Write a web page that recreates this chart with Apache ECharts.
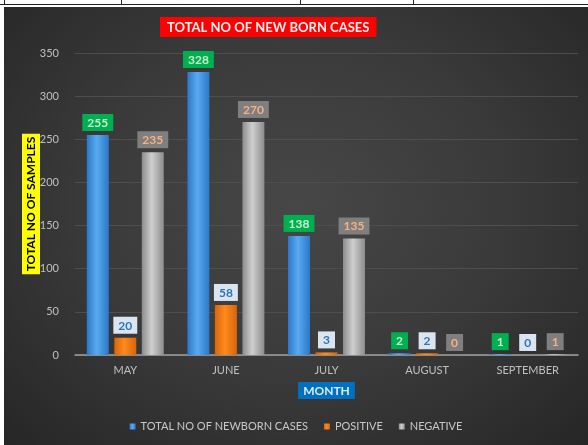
<!DOCTYPE html>
<html>
<head>
<meta charset="utf-8">
<script src="https://cdn.jsdelivr.net/npm/echarts@6/dist/echarts.min.js"></script>
<style>
  html, body { margin: 0; padding: 0; background: #fff; }
  #wrap { position: relative; width: 588px; height: 445px; overflow: hidden; background: #fff; }
  .ln { position: absolute; background: #222; }
  #main { position: absolute; left: 4px; top: 7px; width: 584px; height: 438px;
          background: radial-gradient(ellipse at 50% 45%, #474747 0%, #3a3a3a 50%, #262626 100%); }
</style>
</head>
<body>
<div id="wrap">
  <!-- table lines above the chart -->
  <div class="ln" style="left:0;top:4px;width:588px;height:1px"></div>
  <div class="ln" style="left:4px;top:0;width:1px;height:5px"></div>
  <div class="ln" style="left:121px;top:0;width:1px;height:5px"></div>
  <div class="ln" style="left:300px;top:0;width:1px;height:5px"></div>
  <div class="ln" style="left:413px;top:0;width:1px;height:5px"></div>
  <div id="main"></div>
</div>
<script>
// data
var months = ['MAY', 'JUNE', 'JULY', 'AUGUST', 'SEPTEMBER'];
var totalCases = [255, 328, 138, 2, 1];
var positive = [20, 58, 3, 2, 0];
var negative = [235, 270, 135, 0, 1];
var yTicks = [0, 50, 100, 150, 200, 250, 300, 350];

var font = 'Lato';

function barGrad(edge, mid) {
  return new echarts.graphic.LinearGradient(0, 0, 1, 0, [
    {offset: 0, color: edge},
    {offset: 0.45, color: mid},
    {offset: 1, color: edge}
  ]);
}

function lbl(bg, fg) {
  return {
    show: true,
    position: 'top',
    distance: 4,
    backgroundColor: bg,
    color: fg,
    fontFamily: font,
    fontWeight: 'bold',
    fontSize: 12,
    padding: [3, 5, 2, 5]
  };
}

var chart = echarts.init(document.getElementById('main'));
chart.setOption({
  backgroundColor: 'transparent',
  animation: false,
  title: {
    text: 'TOTAL NO OF NEW BORN CASES',
    left: 156,
    top: 10,
    backgroundColor: '#ff0000',
    padding: [4, 7, 3, 7],
    textStyle: {
      color: '#f2f2f2',
      fontFamily: font,
      fontWeight: 'bold',
      fontSize: 13
    }
  },
  legend: {
    bottom: 8,
    left: 'center',
    itemWidth: 6,
    itemHeight: 6,
    itemGap: 16,
    icon: 'rect',
    textStyle: { color: '#c8c8c8', fontFamily: font, fontSize: 11 },
    data: ['TOTAL NO OF NEWBORN CASES', 'POSITIVE', 'NEGATIVE']
  },
  grid: { left: 71, right: 10, top: 46, bottom: 90 },
  xAxis: {
    type: 'category',
    data: months,
    name: 'MONTH',
    nameLocation: 'middle',
    nameGap: 27,
    nameMoveOverlap: false,
    nameTextStyle: {
      color: '#ddebf7',
      backgroundColor: '#0070c0',
      fontFamily: font,
      fontWeight: 'bold',
      fontSize: 12,
      padding: [3, 5, 2, 5]
    },
    axisLine: { lineStyle: { color: '#a0a0a0', width: 1.5 } },
    axisTick: { show: false },
    axisLabel: { color: '#c0c0c0', fontFamily: font, fontSize: 11, margin: 10 }
  },
  yAxis: {
    type: 'value',
    min: yTicks[0],
    max: yTicks[yTicks.length - 1],
    interval: 50,
    name: 'TOTAL NO OF SAMPLES',
    nameLocation: 'middle',
    nameGap: 35,
    nameMoveOverlap: false,
    nameTextStyle: {
      color: '#000',
      backgroundColor: '#ffff00',
      fontFamily: font,
      fontWeight: 'bold',
      fontSize: 12,
      padding: [3, 3, 3, 3]
    },
    axisLine: { show: false },
    axisTick: { show: false },
    axisLabel: { color: '#c0c0c0', fontFamily: font, fontSize: 11, margin: 16 },
    splitLine: { lineStyle: { color: '#4e4e4e', width: 1 } }
  },
  series: [
    {
      name: 'TOTAL NO OF NEWBORN CASES',
      type: 'bar',
      data: totalCases,
      barWidth: 22,
      barGap: '25%',
      itemStyle: { color: barGrad('#2a78c8', '#5aaaf0') },
      label: lbl('#00b050', '#c6efce')
    },
    {
      name: 'POSITIVE',
      type: 'bar',
      data: positive,
      barWidth: 22,
      itemStyle: { color: barGrad('#d8650c', '#ff8a1e') },
      label: lbl('#dbe5f1', '#2e75b6')
    },
    {
      name: 'NEGATIVE',
      type: 'bar',
      data: negative,
      barWidth: 22,
      itemStyle: { color: barGrad('#8c8c8c', '#cfcfcf') },
      label: lbl('#7f7f7f', '#f4b183')
    }
  ]
});
</script>
</body>
</html>
